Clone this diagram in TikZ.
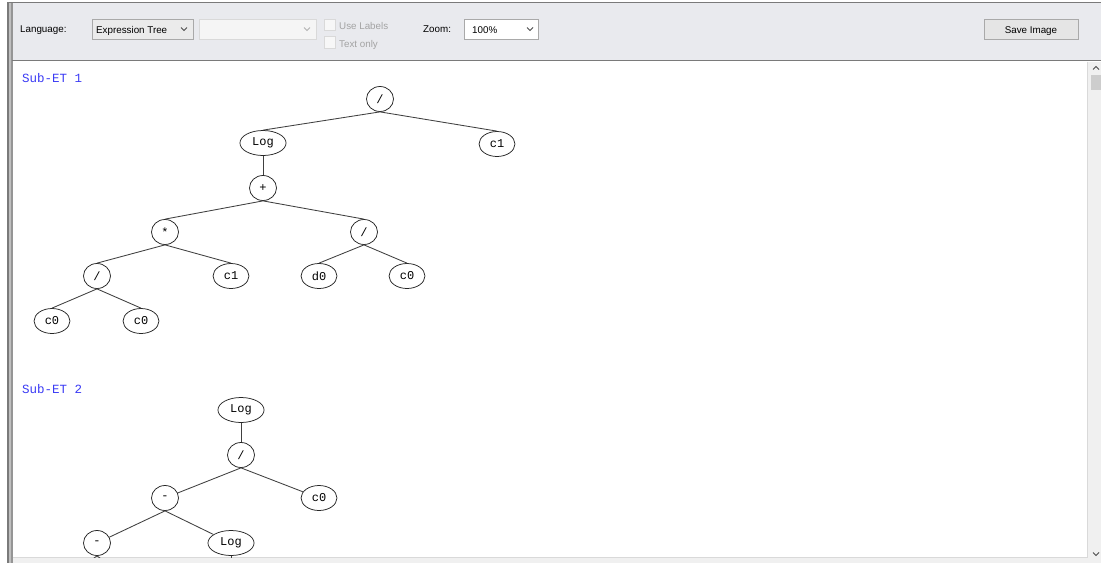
\documentclass[tikz,border=0pt]{standalone}
\usepackage{fontspec}
\setmainfont{Liberation Sans}
\setmonofont{Liberation Mono}
\usetikzlibrary{shapes.geometric}
\definecolor{barbg}{HTML}{E9EAEE}
\definecolor{framegray}{HTML}{7A7A7A}
\definecolor{boxline}{HTML}{A9A9A9}
\definecolor{offline}{HTML}{D9D9D9}
\definecolor{offtext}{HTML}{A3A3A3}
\definecolor{etblue}{HTML}{3A3AF5}
\definecolor{scrollbg}{HTML}{F0F0F0}
\definecolor{thumb}{HTML}{CDCDCD}
\newcommand{\ddarrow}[3][black!70]{\draw[#1, line width=0.9] ({#2-3},{#3-1.5}) -- (#2,{#3+1.5}) -- ({#2+3},{#3-1.5});}
\newcommand{\uparrowhead}[2]{\draw[black!70, line width=0.9] ({#1-3},{#2+1.5}) -- (#1,{#2-1.5}) -- ({#1+3},{#2+1.5});}

\begin{document}
\begin{tikzpicture}[x=1pt,y=-1pt,
    et/.style={draw=black!85, line width=0.75pt, ellipse, inner xsep=5.5pt, inner ysep=0pt,
      minimum width=27pt, minimum height=25pt, font=\ttfamily\fontsize{12}{12}\selectfont},
    branch/.style={draw=black!75, line width=0.85pt},
    ui/.style={font=\fontsize{9.8}{11}\selectfont, anchor=base west, inner sep=0pt},
    subet/.style={text=etblue, font=\ttfamily\fontsize{12.5}{13}\selectfont, anchor=base west, inner sep=0pt}]
  \useasboundingbox (0,0) rectangle (1101,563);
  % window frame and toolbar
  \fill[white] (0,0) rectangle (1101,563);
  \fill[barbg] (12,3) rectangle (1101,60);
  \draw[framegray, line width=1.3] (7,2.6) -- (1101,2.6);
  \fill[framegray] (7,3) rectangle (9,563);
  \fill[black!25] (9,3) rectangle (11,563);
  \fill[framegray!80] (11,3) rectangle (12.5,563);
  \draw[framegray, line width=1.6] (12,60.5) -- (1101,60.5);
  %
  \node[ui] (lang) at (20,32) {Language:};
  \draw[boxline, fill=black!8] (92,19) rectangle (193,39);
  \node[ui] (langval) at (96,33) {Expression Tree};
  \ddarrow{184}{29}
  \draw[offline, fill=black!4] (199,19) rectangle (316,39);
  \ddarrow[black!30]{307}{29}
  \draw[offline, fill=black!3] (324,19) rectangle (335,30);
  \node[ui, text=offtext] (uselabels) at (339,29) {Use Labels};
  \draw[offline, fill=black!3] (324,36) rectangle (335,48);
  \node[ui, text=offtext] (textonly) at (339,47) {Text only};
  \node[ui] (zoom) at (423,32) {Zoom:};
  \draw[boxline, fill=white] (464,19) rectangle (538,39);
  \node[ui] (zoomval) at (472,33) {100\%};
  \ddarrow{530}{29}
  \draw[boxline, fill=black!10] (984,19) rectangle (1078,39);
  \node[ui, anchor=base] (save) at (1031,33) {Save Image};
  % scroll bars
  \fill[scrollbg] (1088,61.5) rectangle (1101,563);
  \draw[black!15] (1087.5,61.5) -- (1087.5,557.5) -- (12.5,557.5);
  \fill[scrollbg] (12.5,558) rectangle (1088,563);
  \uparrowhead{1096}{68}
  \fill[thumb] (1091,75) rectangle (1101,90);
  \ddarrow{1096}{554}
  %
  \begin{scope}
    \clip (12.5,61.5) rectangle (1087,557);
    \node[subet] (sub1) at (22,82) {Sub-ET 1};
    \node[et] (r1) at (380,99) {/};
    \node[et] (log1) at (263,143) {Log};
    \node[et] (c1a) at (497,144) {c1};
    \node[et] (plus) at (263,188) {+};
    \node[et] (mul) at (165,232) {*};
    \node[et] (div2) at (364,232) {/};
    \node[et] (div3) at (97,276) {/};
    \node[et] (c1b) at (231,276) {c1};
    \node[et] (d0) at (319,276) {d0};
    \node[et] (c0a) at (407,276) {c0};
    \node[et] (c0b) at (52,321) {c0};
    \node[et] (c0c) at (141,321) {c0};
    \foreach \p/\c in {r1/log1, r1/c1a, log1/plus, plus/mul, plus/div2, mul/div3,
      mul/c1b, div2/d0, div2/c0a, div3/c0b, div3/c0c}
      \draw[branch] (\p.south) -- (\c.north);
    %
    \node[subet] (sub2) at (22,393) {Sub-ET 2};
    \node[et] (log2) at (241,410) {Log};
    \node[et] (div4) at (241,455) {/};
    \node[et] (sub) at (165,498) {-};
    \node[et] (c0d) at (319,498) {c0};
    \node[et] (subb) at (97,543) {-};
    \node[et] (log3) at (231,543) {Log};
    \coordinate (cutl) at (52,588);
    \coordinate (cutr) at (141,588);
    \coordinate (cutm) at (231,588);
    \foreach \p/\c in {log2/div4, div4/sub, div4/c0d, sub/subb, sub/log3, subb/cutl,
      subb/cutr, log3/cutm}
      \draw[branch] (\p.south) -- (\c);
  \end{scope}
\end{tikzpicture}
\end{document}
